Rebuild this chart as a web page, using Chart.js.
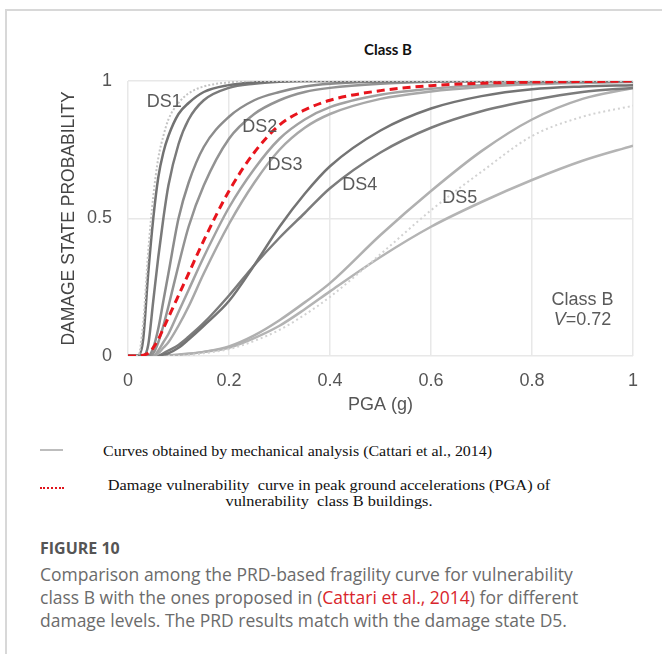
<!DOCTYPE html>
<html>
<head>
<meta charset="utf-8">
<script src="https://cdn.jsdelivr.net/npm/chart.js@4.4.0/dist/chart.umd.min.js"></script>
<style>
  body { margin: 0; background: #fff; width: 662px; height: 654px; overflow: hidden; position: relative; font-family: "Open Sans", sans-serif; }
  #frame { position: absolute; left: 5px; top: 9px; right: 0; bottom: 0; border-left: 2px solid #d8d8d8; border-top: 2px solid #d8d8d8; }
  #chartTitle { position: absolute; left: 338px; width: 100px; top: 40px; text-align: center; font: bold 15px Lato, sans-serif; color: #111; }
  #myChart { position: absolute; left: 0; top: 0; }
  .leg { position: absolute; font-family: "Liberation Serif", "Times New Roman", serif; font-size: 14px; color: #111; transform-origin: left top; white-space: nowrap; }
  #legLine1 { position: absolute; left: 40px; top: 449px; width: 23px; height: 2px; background: #bdbdbd; }
  #legLine2 { position: absolute; left: 40px; top: 487px; width: 24px; border-top: 2px dotted #e0141c; }
  #figTitle { position: absolute; left: 40px; top: 537px; font-size: 16px; line-height: 23px; font-weight: 700; color: #555; }
  #cap { position: absolute; left: 40px; top: 563px; width: 576px; font-size: 17.5px; line-height: 23px; color: #6b6b6b; }
  #cap span { color: #d9262c; }
</style>
</head>
<body>
<div id="frame"></div>
<div id="chartTitle">Class B</div>
<canvas id="myChart" width="662" height="430"></canvas>

<div id="legLine1"></div>
<div class="leg" style="left:103px; top:444px; transform:scaleX(1.14);">Curves obtained by mechanical analysis (Cattari et al., 2014)</div>
<div id="legLine2"></div>
<div class="leg" style="left:103px; width:388px; top:478px; text-align:center; line-height:16px; transform:scaleX(1.165);">Damage vulnerability&nbsp; curve in peak ground accelerations (PGA) of<br>vulnerability&nbsp; class B buildings.</div>

<div id="figTitle">FIGURE 10</div>
<div id="cap">Comparison among the PRD-based fragility curve for vulnerability class B with the ones proposed in (<span>Cattari et al., 2014</span>) for different damage levels. The PRD results match with the damage state D5.</div>

<script>
// PGA (g) en abscisse, probabilités
var pga   = [0, 0.02, 0.03, 0.04, 0.05, 0.06, 0.07, 0.08, 0.10, 0.12, 0.15, 0.20, 0.25, 0.30, 0.35, 0.40, 0.50, 0.60, 0.70, 0.80, 0.90, 1.00];

var prd    = [0, 0, 0.003, 0.01, 0.03, 0.06, 0.10, 0.14, 0.22, 0.30, 0.42, 0.60, 0.74, 0.84, 0.895, 0.93, 0.965, 0.983, 0.992, 0.996, 0.998, 1];
var ds1a   = [0, 0, 0.06, 0.30, 0.50, 0.65, 0.74, 0.80, 0.88, 0.92, 0.96, 0.985, 0.995, 1, 1, 1, 1, 1, 1, 1, 1, 1];
var ds1b   = [0, 0, 0, 0.04, 0.20, 0.36, 0.50, 0.62, 0.77, 0.86, 0.93, 0.975, 0.99, 0.997, 1, 1, 1, 1, 1, 1, 1, 1];
var ds1dot = [0, 0, 0.12, 0.38, 0.58, 0.72, 0.80, 0.86, 0.92, 0.955, 0.98, 0.995, 1, 1, 1, 1, 1, 1, 1, 1, 1, 1];
var ds2a   = [0, 0, 0, 0, 0.03, 0.10, 0.20, 0.30, 0.50, 0.63, 0.76, 0.87, 0.93, 0.96, 0.98, 0.99, 0.997, 1, 1, 1, 1, 1];
var ds2b   = [0, 0, 0, 0, 0.01, 0.05, 0.11, 0.18, 0.33, 0.47, 0.62, 0.79, 0.88, 0.93, 0.96, 0.975, 0.99, 0.997, 1, 1, 1, 1];
var ds3a   = [0, 0, 0, 0, 0, 0.02, 0.05, 0.08, 0.16, 0.24, 0.36, 0.54, 0.68, 0.79, 0.86, 0.905, 0.95, 0.972, 0.985, 0.992, 0.996, 0.998];
var ds3b   = [0, 0, 0, 0, 0, 0.01, 0.03, 0.05, 0.11, 0.18, 0.30, 0.48, 0.63, 0.75, 0.83, 0.88, 0.935, 0.962, 0.978, 0.988, 0.993, 0.996];
var ds4a   = [0, 0, 0, 0, 0, 0, 0.005, 0.01, 0.03, 0.06, 0.11, 0.20, 0.33, 0.47, 0.59, 0.69, 0.82, 0.90, 0.945, 0.97, 0.98, 0.985];
var ds4b   = [0, 0, 0, 0, 0, 0, 0.01, 0.02, 0.04, 0.07, 0.12, 0.22, 0.33, 0.43, 0.52, 0.61, 0.74, 0.83, 0.89, 0.93, 0.96, 0.975];
var ds5a   = [0, 0, 0, 0, 0, 0, 0, 0.002, 0.005, 0.008, 0.015, 0.035, 0.075, 0.13, 0.195, 0.265, 0.44, 0.60, 0.745, 0.86, 0.935, 0.975];
var ds5b   = [0, 0, 0, 0, 0, 0, 0, 0.002, 0.005, 0.008, 0.015, 0.03, 0.065, 0.11, 0.17, 0.235, 0.36, 0.47, 0.56, 0.64, 0.71, 0.765];
var ds5dot = [0, 0, 0, 0, 0, 0, 0, 0, 0, 0.003, 0.01, 0.025, 0.055, 0.095, 0.15, 0.215, 0.37, 0.53, 0.67, 0.80, 0.87, 0.91];

// etichette dentro il grafico
var dsNames = ["DS1", "DS2", "DS3", "DS4", "DS5"];
var dsNameX = [0.072, 0.261, 0.311, 0.459, 0.657];
var dsNameY = [0.924, 0.833, 0.695, 0.622, 0.575];

var xTicks = [0, 0.2, 0.4, 0.6, 0.8, 1];
var yTicks = [0, 0.5, 1];

var FONT = '"Liberation Sans", Arial, sans-serif';

function toPoints(vals) {
	return pga.map((p, i) => ({ x: p, y: vals[i] }));
}

function curve(vals, color, dash, width) {
	return {
		data: toPoints(vals),
		borderColor: color,
		borderDash: dash || [],
		borderWidth: width || 2.5,
		pointRadius: 0,
		cubicInterpolationMode: 'monotone'
	};
}

const textPlugin = {
	id: 'textPlugin',
	afterDatasetsDraw(chart) {
		const ctx = chart.ctx;
		const xs = chart.scales.x, ys = chart.scales.y;
		ctx.save();
		ctx.fillStyle = '#5a5a5a';
		ctx.textAlign = 'center';
		ctx.textBaseline = 'middle';
		ctx.font = '18px ' + FONT;
		dsNames.forEach((t, i) => {
			ctx.fillText(t, xs.getPixelForValue(dsNameX[i]), ys.getPixelForValue(dsNameY[i]));
		});
		// Class B / V=0.72
		let cx = xs.getPixelForValue(0.9);
		ctx.fillText('Class B', cx, ys.getPixelForValue(0.204));
		let vy = ys.getPixelForValue(0.13);
		ctx.font = 'italic 18px ' + FONT;
		let wV = ctx.measureText('V').width;
		ctx.font = '18px ' + FONT;
		let wR = ctx.measureText('=0.72').width;
		let start = cx - (wV + wR) / 2;
		ctx.textAlign = 'left';
		ctx.font = 'italic 18px ' + FONT;
		ctx.fillText('V', start, vy);
		ctx.font = '18px ' + FONT;
		ctx.fillText('=0.72', start + wV, vy);
		ctx.restore();
	}
};

const ctx = document.getElementById('myChart').getContext('2d');
const myChart = new Chart(ctx, {
	type: 'line',
	data: {
		datasets: [
			curve(prd, '#e8141c', [8, 5], 3),
			curve(ds1dot, '#c4c4c4', [2, 2], 2),
			curve(ds1a, '#727272'),
			curve(ds1b, '#7a7a7a'),
			curve(ds2a, '#8c8c8c'),
			curve(ds2b, '#939393'),
			curve(ds3a, '#a2a2a2'),
			curve(ds3b, '#a8a8a8'),
			curve(ds4a, '#747474'),
			curve(ds4b, '#7c7c7c'),
			curve(ds5dot, '#d2d2d2', [2, 3], 2),
			curve(ds5a, '#b0b0b0'),
			curve(ds5b, '#b4b4b4')
		]
	},
	options: {
		responsive: false,
		animation: false,
		layout: { padding: { left: 50, right: 29, top: 81, bottom: 0 } },
		plugins: { legend: { display: false }, tooltip: { enabled: false }, title: { display: false } },
		scales: {
			x: {
				type: 'linear', min: 0, max: 1,
				afterFit: function(s) { s.height = 74; },
				afterBuildTicks: function(s) { s.ticks = xTicks.map(v => ({ value: v })); },
				ticks: { padding: 14, color: '#555', font: { family: FONT, size: 18 }, callback: v => String(+v.toFixed(1)) },
				grid: { color: '#e8e8e8', lineWidth: 1.5, drawTicks: false },
				border: { display: false },
				title: { display: true, text: 'PGA (g)', color: '#555', font: { family: FONT, size: 18 }, padding: { top: 0, bottom: 14 } }
			},
			y: {
				type: 'linear', min: 0, max: 1,
				afterFit: function(s) { s.width = 78; },
				afterBuildTicks: function(s) { s.ticks = yTicks.map(v => ({ value: v })); },
				ticks: { padding: 16, color: '#555', font: { family: FONT, size: 18 }, callback: v => String(+v.toFixed(1)) },
				grid: { color: '#e8e8e8', lineWidth: 1.5, drawTicks: false },
				border: { display: false },
				title: { display: true, text: 'DAMAGE STATE PROBABILITY', color: '#444', font: { family: FONT, size: 17.5 }, padding: { top: 9, bottom: 0 } }
			}
		}
	},
	plugins: [textPlugin]
});
</script>
</body>
</html>
